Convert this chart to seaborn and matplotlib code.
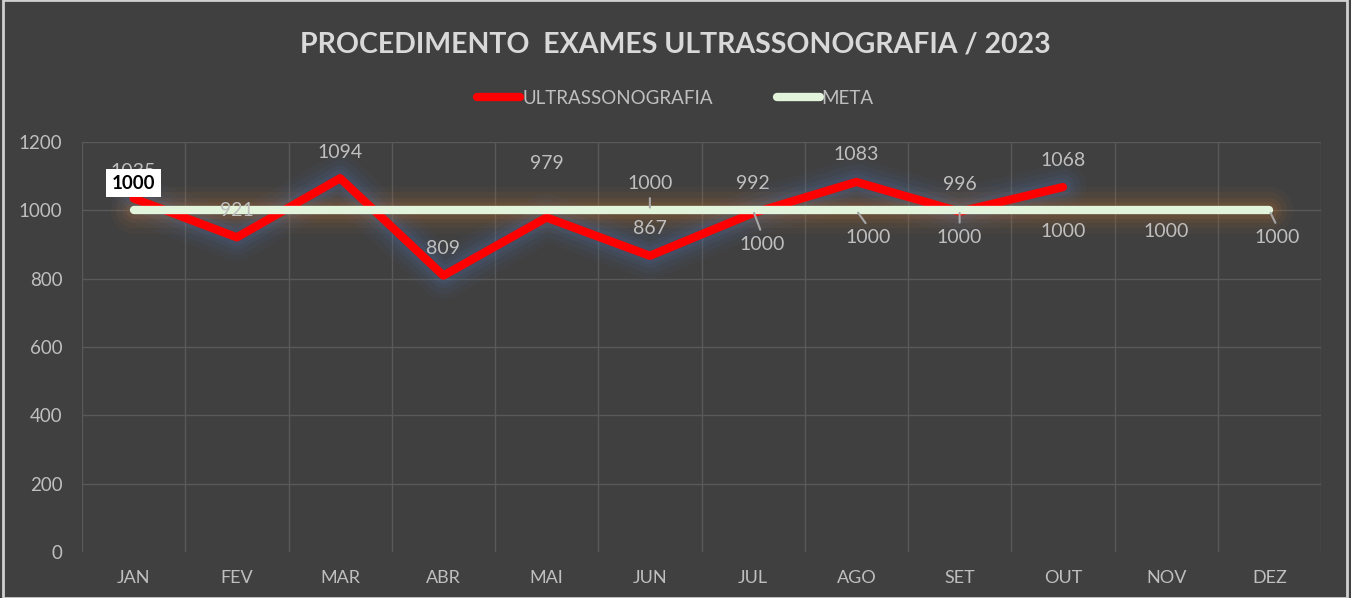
import matplotlib
matplotlib.use("Agg")
import matplotlib.pyplot as plt
import seaborn as sns
import pandas as pd
import numpy as np

meses = ["JAN", "FEV", "MAR", "ABR", "MAI", "JUN", "JUL", "AGO", "SET", "OUT", "NOV", "DEZ"]
ultrassonografia = [1035, 921, 1094, 809, 979, 867, 992, 1083, 996, 1068]
meta = [1000] * 12
y_ticks = [0, 200, 400, 600, 800, 1000, 1200]

# label offsets (pixels) -- None means the label was removed in the original
ultra_offsets = [27, 27, 26, 27, 54, 27, 30, 27, 27, 27]
meta_offsets = [(0, 27), None, None, None, None, (0, 27), (9, -34), (12, -27), (0, -27), (0, -21), (0, -21), (8, -27)]
meta_leaders = [False, False, False, False, False, True, True, True, True, False, False, True]

BG = "#404040"
GRID = "#595959"
TXT = "#bfbfbf"
RED = "#ff0000"
GREEN = "#e2f5dc"

sns.set_theme(style="dark")
plt.rcParams["font.family"] = ["Lato", "DejaVu Sans"]

df_u = pd.DataFrame({"x": np.arange(len(ultrassonografia)), "v": ultrassonografia})
df_m = pd.DataFrame({"x": np.arange(len(meta)), "v": meta})

fig = plt.figure(figsize=(13.51, 5.98), dpi=100, facecolor=BG)
ax = fig.add_axes([82 / 1351, 1 - 552 / 598, (1321 - 82) / 1351, (552 - 142) / 598])
ax.set_facecolor(BG)

# soft glow behind the lines
for lw, a in [(34, 0.05), (26, 0.07), (18, 0.09), (12, 0.12)]:
    ax.plot(df_u["x"], df_u["v"], color="#4f76b8", lw=lw, alpha=a,
            solid_capstyle="round", solid_joinstyle="round", zorder=2)
    ax.plot(df_m["x"], df_m["v"], color="#c4732f", lw=lw, alpha=a,
            solid_capstyle="round", zorder=2)

sns.lineplot(data=df_u, x="x", y="v", ax=ax, color=RED, lw=6, zorder=3,
             solid_capstyle="round", solid_joinstyle="round", legend=False)
sns.lineplot(data=df_m, x="x", y="v", ax=ax, color=GREEN, lw=6, zorder=4,
             solid_capstyle="round", legend=False)

ax.set_xlim(-0.5, 11.5)
ax.set_ylim(0, 1200)
ax.set_xticks(np.arange(12))
ax.set_xticklabels(meses)
ax.set_yticks(y_ticks)
ax.tick_params(axis="x", colors=TXT, labelsize=13, pad=13, length=0)
ax.tick_params(axis="y", colors=TXT, labelsize=13.5, pad=14, length=0)
ax.set_xlabel("")
ax.set_ylabel("")
ax.grid(False)
for s in ax.spines.values():
    s.set_visible(False)
for y in y_ticks[1:]:
    ax.axhline(y, color=GRID, lw=1, zorder=1)
for x in np.arange(-0.5, 12, 1):
    ax.plot([x, x], [0, 1200], color=GRID, lw=1, zorder=1)

# value labels
for i, v in enumerate(ultrassonografia):
    ax.annotate(str(v), (i, v), xytext=(0, ultra_offsets[i]), textcoords="offset pixels",
                ha="center", va="center", color=TXT, fontsize=14, zorder=6)

for i, v in enumerate(meta):
    off = meta_offsets[i]
    if off is None:
        continue
    if i == 0:
        ax.annotate(str(v), (i, v), xytext=off, textcoords="offset pixels",
                    ha="center", va="center", color="black", fontsize=13.5,
                    fontweight="bold", zorder=7,
                    bbox=dict(boxstyle="square,pad=0.3", fc="white", ec="none"))
        continue
    ax.annotate(str(v), (i, v), xytext=off, textcoords="offset pixels",
                ha="center", va="center", color=TXT, fontsize=14, zorder=6)
    if meta_leaders[i]:
        dy = 1 if off[1] > 0 else -1
        ax.annotate("", (i, v), xytext=(off[0] * 0.9, off[1] - dy * 12), textcoords="offset pixels",
                    arrowprops=dict(arrowstyle="-", color="#a6a6a6", lw=1.5), zorder=6)

# title and legend
fig.text(0.5, 1 - 45 / 598, "PROCEDIMENTO  EXAMES ULTRASSONOGRAFIA / 2023", ha="center", va="center",
         color="#d9d9d9", fontsize=20.5, fontweight="bold")
h1, = ax.plot([], [], color=RED, lw=6, solid_capstyle="round")
h2, = ax.plot([], [], color=GREEN, lw=6, solid_capstyle="round")
leg = fig.legend([h1, h2], ["ULTRASSONOGRAFIA", "META"], loc="center", ncol=2,
                 bbox_to_anchor=(0.5, 1 - 98 / 598), frameon=False, fontsize=13.5,
                 handlelength=2.3, handletextpad=0.1, columnspacing=3.4)
for t in leg.get_texts():
    t.set_color(TXT)

# outer frame
fig.patches.append(plt.Rectangle((0.002, 0.0), 0.995, 1.0, transform=fig.transFigure,
                                 fill=False, ec="#d0d0d0", lw=2))

fig.savefig("out.png", dpi=100, facecolor=BG)
